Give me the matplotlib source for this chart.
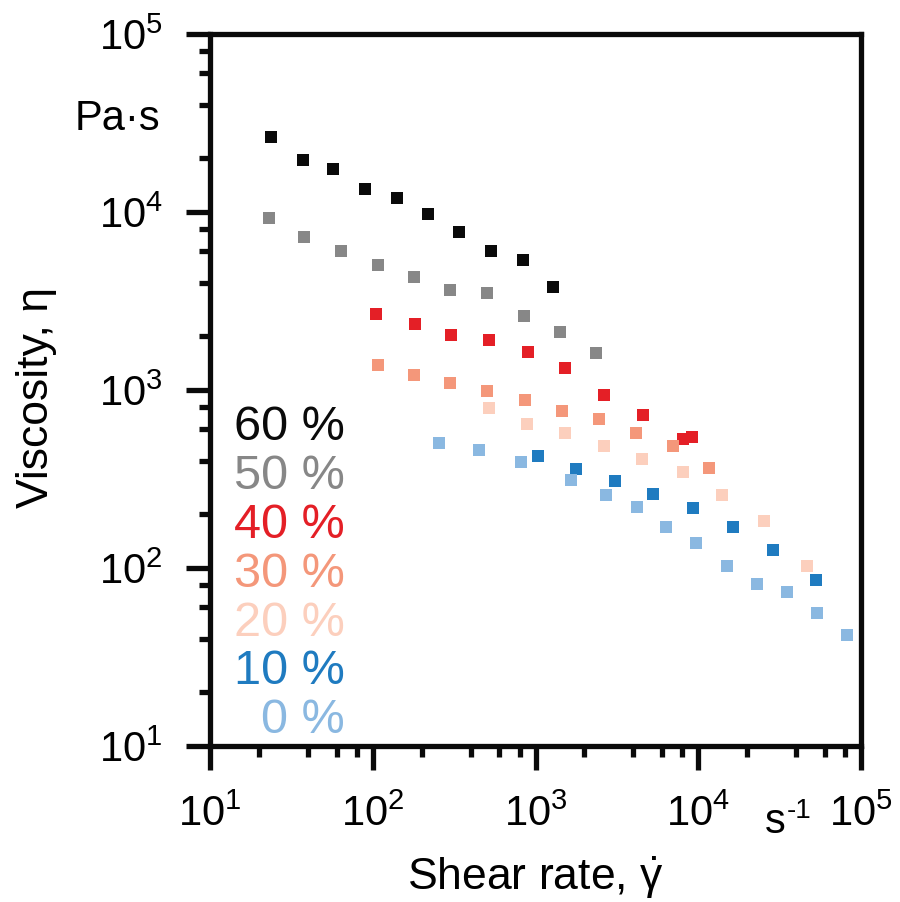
import matplotlib
matplotlib.use("Agg")
import matplotlib.pyplot as plt
from matplotlib.ticker import LogLocator, FixedLocator, NullFormatter, FixedFormatter

plt.rcParams['font.family'] = ['Liberation Sans', 'DejaVu Sans']
plt.rcParams['mathtext.fontset'] = 'custom'
plt.rcParams['mathtext.rm'] = 'Liberation Sans'
plt.rcParams['mathtext.it'] = 'Liberation Sans:italic'
plt.rcParams['mathtext.bf'] = 'Liberation Sans:bold'

# ---- data ----
series_labels = ['60 %', '50 %', '40 %', '30 %', '20 %', '10 %', '0 %']
series_colors = ['#0a0a0a', '#878787', '#e41f26', '#f4977a', '#fccfbd', '#1f7bc0', '#8ab8e1']

shear_60 = [23.6, 37.3, 57.0, 89.7, 140, 217, 338, 532, 836, 1276]
visc_60 = [26400, 19500, 17500, 13500, 12000, 9780, 7740, 6010, 5370, 3800]

shear_50 = [22.9, 37.9, 64.0, 107, 179, 298, 505, 847, 1422, 2366]
visc_50 = [9290, 7240, 6020, 5040, 4330, 3630, 3490, 2605, 2118, 1608]

shear_40 = [105, 181, 304, 520, 897, 1528, 2637, 4578, 8013, 9145]
visc_40 = [2686, 2340, 2036, 1908, 1629, 1324, 937, 721, 532, 547]

shear_30 = [107, 179, 298, 505, 857, 1445, 2443, 4149, 6955, 11720]
visc_30 = [1380, 1218, 1099, 987, 879, 765, 684, 577, 483, 366]

shear_20 = [520, 885, 1528, 2650, 4520, 8013, 14030, 25290, 46640]
visc_20 = [796, 643, 573, 483, 410, 348, 257, 184, 102]

shear_10 = [1040, 1778, 3068, 5300, 9275, 16320, 28840, 52700]
visc_10 = [426, 361, 307, 261, 218, 170, 127, 85.3]

shear_0 = [257, 447, 816, 1641, 2717, 4210, 6340, 9680, 14920, 22910, 35160, 53500, 82070]
visc_0 = [504, 458, 394, 314, 258, 221, 170, 138, 102, 81.3, 73, 55.6, 42.1]

major_ticks = [1e1, 1e2, 1e3, 1e4, 1e5]
tick_labels = [r'$\mathrm{10^{1}}$', r'$\mathrm{10^{2}}$', r'$\mathrm{10^{3}}$',
               r'$\mathrm{10^{4}}$', r'$\mathrm{10^{5}}$']

shears = [shear_60, shear_50, shear_40, shear_30, shear_20, shear_10, shear_0]
viscs = [visc_60, visc_50, visc_40, visc_30, visc_20, visc_10, visc_0]

W, H = 900, 902
fig = plt.figure(figsize=(W / 100, H / 100), dpi=100)
L, R, T, B = 210, 861, 34, 746
ax = fig.add_axes([L / W, 1 - B / H, (R - L) / W, (B - T) / H])

for xs, ys, c in zip(shears, viscs, series_colors):
    ax.plot(xs, ys, linestyle='none', marker='s', ms=8.8, mew=0, color=c)

ax.set_xscale('log')
ax.set_yscale('log')
ax.set_xlim(1e1, 1e5)
ax.set_ylim(1e1, 1e5)

for axis in (ax.xaxis, ax.yaxis):
    axis.set_major_locator(FixedLocator(major_ticks))
    axis.set_major_formatter(FixedFormatter(tick_labels))
    axis.set_minor_locator(LogLocator(base=10, subs=(2, 4, 6, 8)))
    axis.set_minor_formatter(NullFormatter())

lw = 3.8
for s in ax.spines.values():
    s.set_linewidth(lw)
    s.set_color('#0a0a0a')

ax.tick_params(which='both', direction='out', width=lw, color='#0a0a0a',
               top=False, right=False)
ax.tick_params(which='major', length=17, labelsize=30)
ax.tick_params(which='minor', length=8)
ax.tick_params(axis='y', which='major', pad=17)
ax.tick_params(axis='x', which='major', pad=18)

# unit labels
fig.text(160 / W, 1 - 130 / H, 'Pa\u00b7s', fontsize=30, ha='right', va='baseline')
fig.text(765 / W, 1 - 833 / H, 's', fontsize=30, ha='left', va='baseline')
fig.text(787 / W, 1 - 818 / H, '-1', fontsize=20, ha='left', va='baseline')

# axis titles
fig.text(535 / W, 1 - 890 / H, r'Shear rate, $\dot{\mathrm{\gamma}}$', fontsize=32,
         ha='center', va='baseline')
fig.text(37 / W, 1 - 397 / H, 'Viscosity, \u03b7', fontsize=32, rotation=90,
         ha='center', va='center')

# concentration legend
base0 = 440
step = 48.9
for i, (lab, c) in enumerate(zip(series_labels, series_colors)):
    fig.text(345 / W, 1 - (base0 + i * step) / H, lab, fontsize=35, color=c,
             ha='right', va='baseline')

fig.savefig('out.png', dpi=100)
